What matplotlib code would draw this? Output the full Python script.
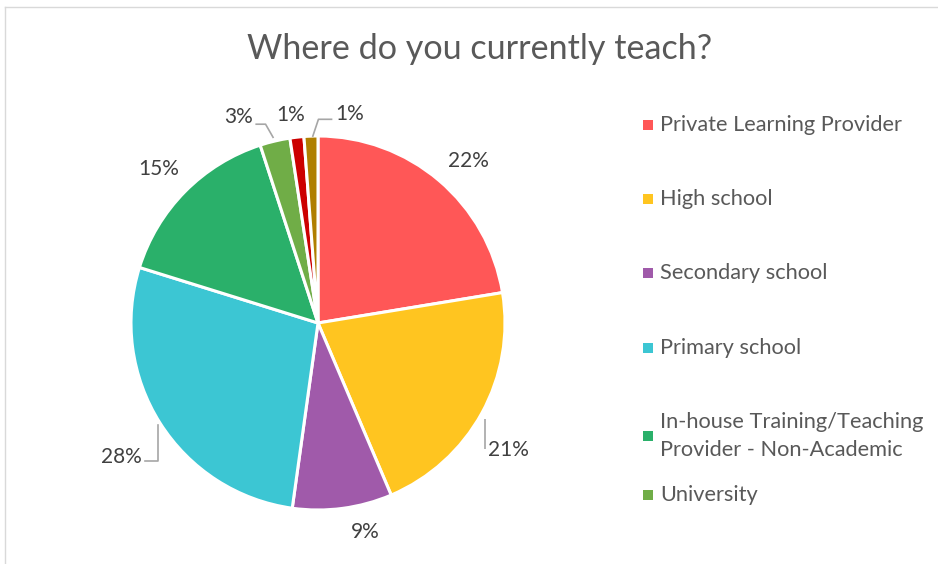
import numpy as np
import matplotlib
matplotlib.use("Agg")
import matplotlib.pyplot as plt
from matplotlib.patches import Rectangle
from matplotlib.lines import Line2D

plt.rcParams['font.family'] = ['Lato', 'DejaVu Sans']

# ---- data ----
title = "Where do you currently teach?"
categories = [
    "Private Learning Provider",
    "High school",
    "Secondary school",
    "Primary school",
    "In-house Training/Teaching\nProvider - Non-Academic",
    "University",
    "Other A",
    "Other B",
]
values = [22.4, 21.2, 8.6, 27.6, 15.2, 2.6, 1.2, 1.2]
legend_shown = 6  # the legend in the reference is truncated after six entries

# ---- style ----
colors = ["#FF5757", "#FFC520", "#A05AAA", "#3CC6D3", "#2AB06A", "#70AD47", "#CC0000", "#B07F00"]
W, H = 938, 564
cx, cy, R = 318, 323, 187  # pie centre / radius in pixels

fig = plt.figure(figsize=(W / 100, H / 100), dpi=100)
ax = fig.add_axes([0, 0, 640 / W, 1])

wedges, _ = ax.pie(values, colors=colors, startangle=90, counterclock=False,
                   radius=1, center=(0, 0), frame=True,
                   wedgeprops=dict(edgecolor='white', linewidth=2.2))
ax.set_xlim((0 - cx) / R, (640 - cx) / R)
ax.set_ylim((cy - H) / R, cy / R)
ax.set_aspect('auto')
ax.axis('off')

fs_lab = 15
lab_r = [1.2, 1.22, 1.16, 1.27, 1.2, 1.16, 1.12, 1.16]
lab_dx = [0.03, 0.0, 0.1, 0.0, 0.0, -0.17, -0.02, 0.19]
lab_dy = [-0.05, 0.0, 0.03, 0.0, -0.02, -0.02, 0.0, -0.01]
lab_color = "#404040"
lead_color = "#A6A6A6"

for i, w in enumerate(wedges):
    mid = np.deg2rad((w.theta1 + w.theta2) / 2)
    ex, ey = np.cos(mid), np.sin(mid)
    pct = f"{round(values[i] / sum(values) * 100):.0f}%"
    if i == 1:
        lx, ly = ex + 0.015, ey - 0.03
        ty = ey - 0.19
        ax.plot([lx, lx], [ly, ty], color=lead_color, lw=1.2, solid_capstyle='butt')
        ax.text(lx + 0.02, ty - 0.005, pct, ha='left', va='center', fontsize=fs_lab, color=lab_color)
    elif i == 3:
        lx, ly = ex - 0.01, ey - 0.01
        ty = ey - 0.2
        ax.plot([lx, lx, lx - 0.07], [ly, ty, ty], color=lead_color, lw=1.2)
        ax.text(lx - 0.09, ty + 0.02, pct, ha='right', va='center', fontsize=fs_lab, color=lab_color)
    elif i == 5:
        ax.plot([ex - 0.01, ex - 0.05, ex - 0.1], [ey + 0.02, ey + 0.09, ey + 0.09],
                color=lead_color, lw=1.2)
        ax.text(ex - 0.12, ey + 0.13, pct, ha='right', va='center', fontsize=fs_lab, color=lab_color)
    elif i == 7:
        ax.plot([ex + 0.01, ex + 0.04, ex + 0.11], [ey + 0.0, ey + 0.09, ey + 0.09],
                color=lead_color, lw=1.2)
        ax.text(ex + 0.13, ey + 0.12, pct, ha='left', va='center', fontsize=fs_lab, color=lab_color)
    else:
        tx = lab_r[i] * ex + lab_dx[i]
        ty = lab_r[i] * ey + lab_dy[i]
        ax.text(tx, ty, pct, ha='center', va='center', fontsize=fs_lab, color=lab_color)

# title
fig.text(480 / W, 1 - 49 / H, title, ha='center', va='center', fontsize=24.6, color="#595959")

# legend (manual, truncated like the reference)
leg_y = [125, 199, 273, 348, 436, 495]
for i in range(legend_shown):
    y = leg_y[i]
    fig.add_artist(Rectangle((643 / W, 1 - (y + 5) / H), 10 / W, 10 / H,
                             transform=fig.transFigure, color=colors[i], lw=0))
    fig.text(660 / W, 1 - y / H, categories[i], ha='left', va='center',
             fontsize=15.7, color="#595959", linespacing=1.5)

# frame lines
fig.add_artist(Line2D([5 / W, 5 / W], [0, 1 - 7 / H], transform=fig.transFigure, color="#D9D9D9", lw=1))
fig.add_artist(Line2D([5 / W, 1], [1 - 7 / H, 1 - 7 / H], transform=fig.transFigure, color="#D9D9D9", lw=1))

fig.savefig("out.png", dpi=100)
